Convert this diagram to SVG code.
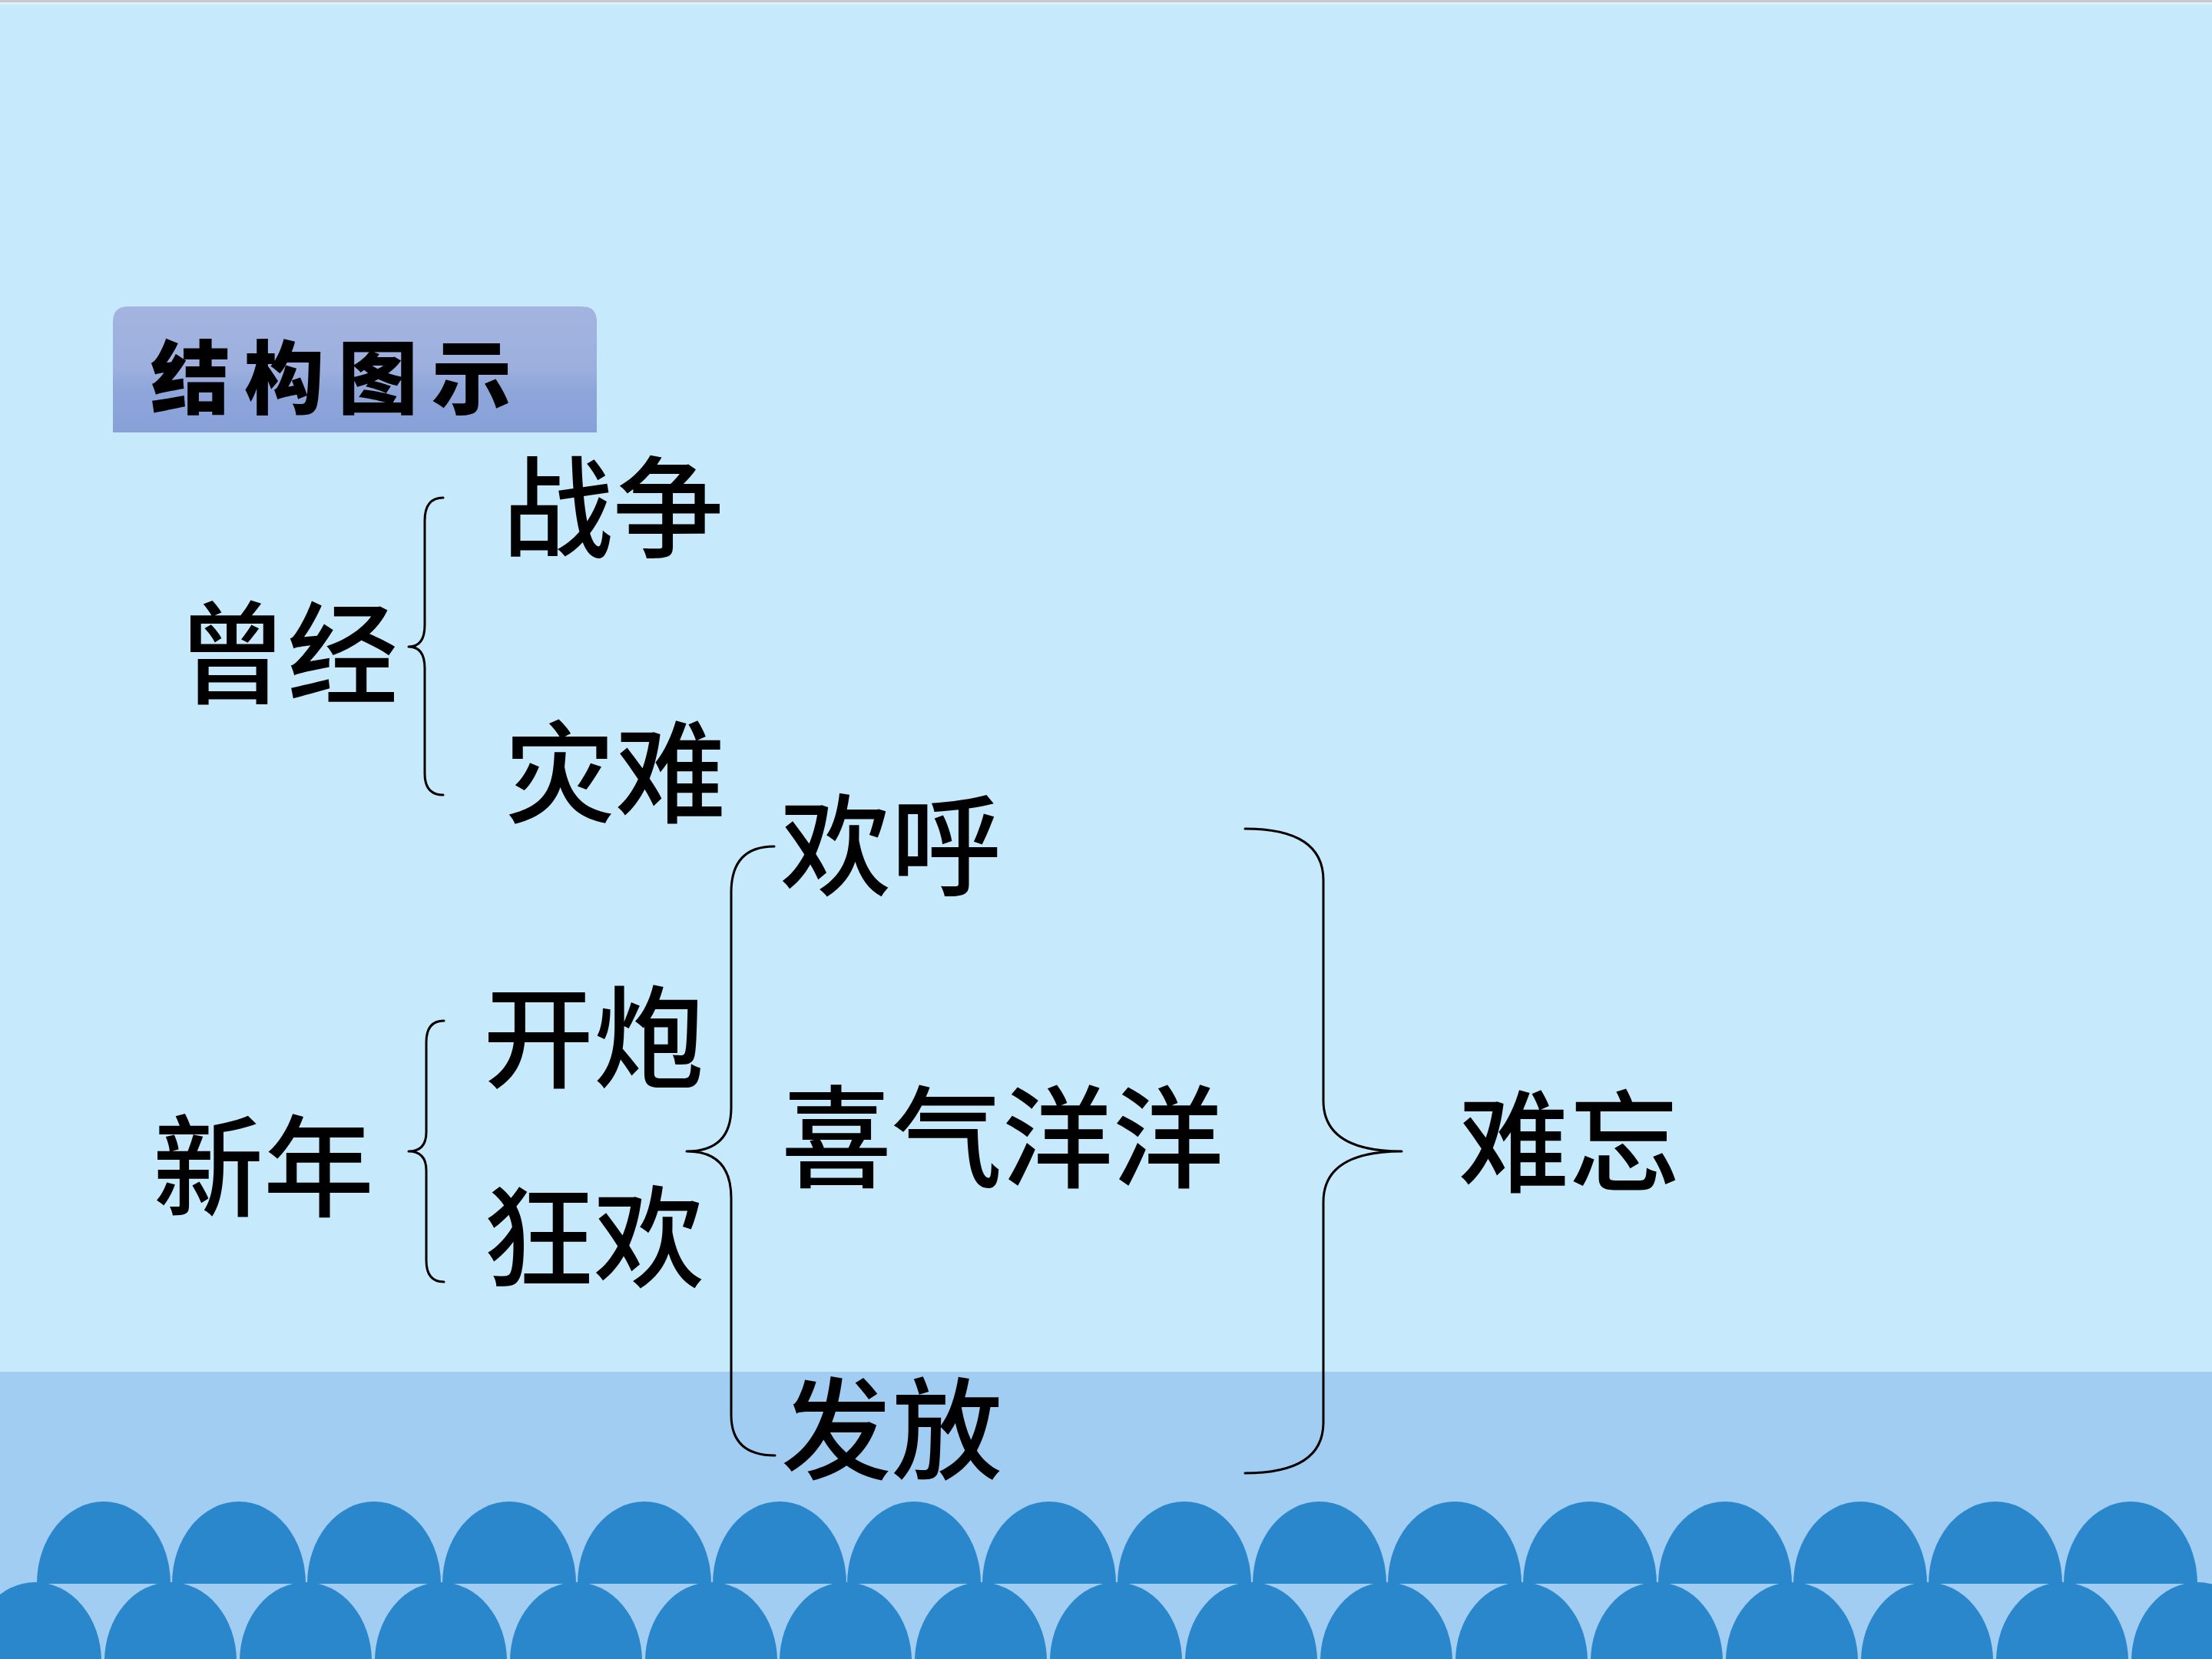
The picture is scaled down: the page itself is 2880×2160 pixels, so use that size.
<svg xmlns="http://www.w3.org/2000/svg" width="2880" height="2160" viewBox="0 0 2880 2160">
  <style>
    .t { font-family: "Noto Sans CJK SC", "Noto Sans CJK TC", sans-serif; font-size: 144px; font-weight: 500; fill: #000; text-anchor: middle; }
    .title { font-family: "Noto Sans CJK SC", sans-serif; font-size: 104px; font-weight: 900; fill: #000; letter-spacing: 18px; }
    .brace { fill: none; stroke: #000; stroke-width: 3; stroke-linecap: round; stroke-linejoin: round; }
    .wave { fill: #2A87CC; }
  </style>
  <defs>
    <linearGradient id="titleGrad" x1="0" y1="0" x2="0" y2="1">
      <stop offset="0" stop-color="#A4B4DF"/>
      <stop offset="0.5" stop-color="#9CAFDE"/>
      <stop offset="0.66" stop-color="#8EA6DA"/>
      <stop offset="1" stop-color="#87A0D8"/>
    </linearGradient>
    <path id="up" d="M-87,0 A87,107 0 0 1 87,0 Z"/>
    <path id="lo" d="M-86,0 A86,103 0 0 1 86,0 Z"/>
  </defs>

  <!-- background -->
  <rect x="0" y="0" width="2880" height="2160" fill="#C6E9FB"/>
  <rect x="0" y="0" width="2880" height="3" fill="#C9C9C9"/>
  <rect x="0" y="3" width="2880" height="3" fill="#DDF1FC"/>
  <rect x="0" y="1786" width="2880" height="374" fill="#A0CDF1"/>

  <!-- waves -->
  <g id="waves-upper" class="wave">
    <use href="#up" x="135" y="2062"/><use href="#up" x="311" y="2062"/><use href="#up" x="487" y="2062"/><use href="#up" x="663" y="2062"/>
    <use href="#up" x="839" y="2062"/><use href="#up" x="1015" y="2062"/><use href="#up" x="1190" y="2062"/><use href="#up" x="1366" y="2062"/>
    <use href="#up" x="1542" y="2062"/><use href="#up" x="1718" y="2062"/><use href="#up" x="1894" y="2062"/><use href="#up" x="2070" y="2062"/>
    <use href="#up" x="2246" y="2062"/><use href="#up" x="2422" y="2062"/><use href="#up" x="2598" y="2062"/><use href="#up" x="2774" y="2062"/>
  </g>
  <g id="waves-lower" class="wave">
    <use href="#lo" x="46" y="2163"/><use href="#lo" x="222" y="2163"/><use href="#lo" x="398" y="2163"/><use href="#lo" x="574" y="2163"/>
    <use href="#lo" x="750" y="2163"/><use href="#lo" x="926" y="2163"/><use href="#lo" x="1101" y="2163"/><use href="#lo" x="1277" y="2163"/>
    <use href="#lo" x="1453" y="2163"/><use href="#lo" x="1629" y="2163"/><use href="#lo" x="1805" y="2163"/><use href="#lo" x="1981" y="2163"/>
    <use href="#lo" x="2157" y="2163"/><use href="#lo" x="2333" y="2163"/><use href="#lo" x="2509" y="2163"/><use href="#lo" x="2685" y="2163"/>
    <use href="#lo" x="2861" y="2163"/>
  </g>

  <!-- title -->
  <g id="title">
    <path d="M147,563 L147,419 Q147,399 167,399 L757,399 Q777,399 777,419 L777,563 Z" fill="url(#titleGrad)"/>
    <text class="title" x="196" y="531">结构图示</text>
  </g>

  <!-- nodes -->
  <g id="n-cengjing"><text class="t" x="374" y="905">曾经</text></g>
  <g id="n-zhanzheng"><text class="t" x="798" y="715">战争</text></g>
  <g id="n-zainan"><text class="t" x="801" y="1060">灾难</text></g>
  <g id="n-xinnian"><text class="t" x="343" y="1573">新年</text></g>
  <g id="n-kaipao"><text class="t" x="773" y="1405">开炮</text></g>
  <g id="n-kuanghuan"><text class="t" x="773" y="1665">狂欢</text></g>
  <g id="n-huanhu"><text class="t" x="1160" y="1155">欢呼</text></g>
  <g id="n-xiqi"><text class="t" x="1305" y="1535">喜气洋洋</text></g>
  <g id="n-fafang"><text class="t" x="1161" y="1915">发放</text></g>
  <g id="n-nanwang"><text class="t" x="2043" y="1541">难忘</text></g>

  <!-- connectors (braces) -->
  <g id="connectors">
    <path class="brace" d="M577,648 Q553,648 553,678 L553,814 Q553,842 532,842 Q553,842 553,870 L553,1007 Q553,1035 577,1035"/>
    <path class="brace" d="M578,1329 Q555,1329 555,1357 L555,1474 Q555,1499 532,1499 Q555,1499 555,1524 L555,1641 Q555,1669 578,1669"/>
    <path class="brace" d="M1008,1102 Q952,1102 952,1162 L952,1442 Q952,1499 894,1499 Q952,1499 952,1560 L952,1842 Q952,1895 1009,1895"/>
    <path class="brace" d="M1621,1079 Q1723,1079 1723,1146 L1723,1433 Q1723,1499 1825,1499 Q1723,1499 1723,1565 L1723,1852 Q1723,1918 1621,1918"/>
  </g>
</svg>
